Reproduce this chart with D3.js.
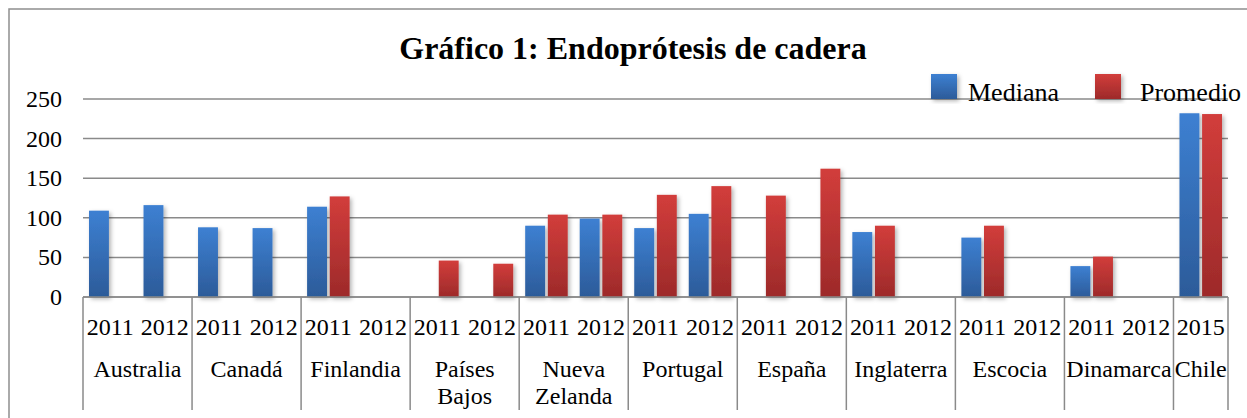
<!DOCTYPE html>
<html>
<head>
<meta charset="utf-8">
<script src="https://cdn.jsdelivr.net/npm/d3@7"></script>
<style>
  body { margin: 0; background: #fff; }
  svg { display: block; font-family: "Liberation Serif", "Times New Roman", Times, serif; }
</style>
</head>
<body>
<div id="graphics"></div>
<script>
// data
var countries = ["Australia", "Canadá", "Finlandia", "Países Bajos", "Nueva Zelanda",
                 "Portugal", "España", "Inglaterra", "Escocia", "Dinamarca", "Chile"];
var years = [["2011", "2012"], ["2011", "2012"], ["2011", "2012"], ["2011", "2012"], ["2011", "2012"],
             ["2011", "2012"], ["2011", "2012"], ["2011", "2012"], ["2011", "2012"], ["2011", "2012"], ["2015"]];
var series = ["Mediana", "Promedio"];
var mediana = [109, 116, 88, 87, 114, null, null, null, 90, 99, 87, 105, null, null, 82, null, 75, null, 39, null, 232];
var promedio = [null, null, null, null, 127, null, 46, 42, 104, 104, 129, 140, 128, 162, 90, null, 90, null, 51, null, 231];
var yTicks = [0, 50, 100, 150, 200, 250];
var title = "Gráfico 1: Endoprótesis de cadera";

function drawChart() {
  var w = 1247, h = 418;
  var left = 83, right = 1228, top = 99, bottom = 297;

  var svg = d3.select("#graphics")
            .append("svg")
            .attr("width", w)
            .attr("height", h);

  // gradients + shadow
  var defs = svg.append("defs");
  var grads = [["gBlue", "#3d80d2", "#2c5b99"], ["gRed", "#d23d3b", "#9d2a2a"]];
  grads.forEach(function(g) {
    var lg = defs.append("linearGradient").attr("id", g[0])
      .attr("x1", 0).attr("y1", 0).attr("x2", 0).attr("y2", 1);
    lg.append("stop").attr("offset", "0%").attr("stop-color", g[1]);
    lg.append("stop").attr("offset", "100%").attr("stop-color", g[2]);
  });
  var f = defs.append("filter").attr("id", "shadow")
    .attr("x", "-30%").attr("y", "-10%").attr("width", "170%").attr("height", "130%");
  f.append("feDropShadow").attr("dx", 2).attr("dy", 2).attr("stdDeviation", 2)
    .attr("flood-color", "#000").attr("flood-opacity", 0.3);

  // outer frame
  svg.append("rect").attr("x", 9).attr("y", 9).attr("width", 1260).attr("height", 430)
    .attr("fill", "none").attr("stroke", "#8f8f8f").attr("stroke-width", 1.5);

  // slots
  var slots = [];
  years.forEach(function(ys, ci) {
    ys.forEach(function(y) { slots.push({ country: ci, year: y }); });
  });
  var x = d3.scaleBand().domain(d3.range(slots.length)).range([left, right]);
  var inner = d3.scaleBand().domain(series)
    .range([x.bandwidth() * 0.11, x.bandwidth() * 0.89]).paddingInner(0.12);
  var y = d3.scaleLinear().domain([0, 250]).range([bottom, top]);

  // grid lines
  svg.selectAll("line.grid")
    .data(yTicks)
    .enter()
    .append("line")
    .attr("x1", left).attr("x2", right)
    .attr("y1", function(d) { return y(d); })
    .attr("y2", function(d) { return y(d); })
    .attr("stroke", "#8a8a8a").attr("stroke-width", 1.5);

  svg.selectAll("text.ytick")
    .data(yTicks)
    .enter()
    .append("text")
    .text(function(d) { return d; })
    .attr("text-anchor", "end")
    .attr("x", 62)
    .attr("y", function(d) { return y(d) + 8; })
    .attr("font-size", "24px")
    .attr("fill", "#000");

  // bars
  var bars = [];
  slots.forEach(function(s, i) {
    if (mediana[i] != null) bars.push({ i: i, s: "Mediana", v: mediana[i] });
    if (promedio[i] != null) bars.push({ i: i, s: "Promedio", v: promedio[i] });
  });
  svg.selectAll("rect.bar")
    .data(bars)
    .enter()
    .append("rect")
    .attr("x", function(d) { return x(d.i) + inner(d.s); })
    .attr("y", function(d) { return y(d.v); })
    .attr("width", inner.bandwidth())
    .attr("height", function(d) { return y(0) - y(d.v); })
    .attr("fill", function(d) { return d.s == "Mediana" ? "url(#gBlue)" : "url(#gRed)"; })
    .attr("filter", "url(#shadow)");

  // category axis: dividers between countries
  var starts = [];
  var k = 0;
  years.forEach(function(ys) { starts.push(k); k += ys.length; });
  var edges = starts.map(function(s) { return x(s); }).concat([right]);
  svg.selectAll("line.div")
    .data(edges)
    .enter()
    .append("line")
    .attr("x1", function(d) { return d; }).attr("x2", function(d) { return d; })
    .attr("y1", bottom).attr("y2", 410)
    .attr("stroke", "#8a8a8a").attr("stroke-width", 1.5);

  svg.append("line").attr("x1", left).attr("x2", right).attr("y1", bottom).attr("y2", bottom)
    .attr("stroke", "#8a8a8a").attr("stroke-width", 1.5);

  svg.selectAll("text.year")
    .data(slots)
    .enter()
    .append("text")
    .text(function(d) { return d.year; })
    .attr("text-anchor", "middle")
    .attr("x", function(d, i) { return x(i) + x.bandwidth() / 2; })
    .attr("y", 335)
    .attr("font-size", "24px");

  var cl = svg.selectAll("text.country")
    .data(countries)
    .enter()
    .append("text")
    .attr("text-anchor", "middle")
    .attr("font-size", "24px")
    .attr("x", function(d, i) { return (edges[i] + edges[i + 1]) / 2; })
    .attr("y", 377);
  cl.each(function(d) {
    var parts = (d == "Países Bajos" || d == "Nueva Zelanda") ? d.split(" ") : [d];
    var t = d3.select(this);
    parts.forEach(function(p, j) {
      t.append("tspan").attr("x", t.attr("x")).attr("dy", j == 0 ? 0 : 27).text(p);
    });
  });

  // title
  svg.append("text")
    .text(title)
    .attr("text-anchor", "middle")
    .attr("x", 633).attr("y", 59)
    .attr("font-size", "32px")
    .attr("font-weight", "bold");

  // legend
  var legX = [931, 1095];
  var legTextX = [968, 1140];
  series.forEach(function(s, i) {
    svg.append("rect")
      .attr("x", legX[i]).attr("y", 74).attr("width", 26).attr("height", 25)
      .attr("fill", i == 0 ? "url(#gBlue)" : "url(#gRed)")
      .attr("filter", "url(#shadow)");
    svg.append("text")
      .text(s)
      .attr("x", legTextX[i]).attr("y", 101)
      .attr("font-size", "26px");
  });
}

drawChart();
</script>
</body>
</html>
